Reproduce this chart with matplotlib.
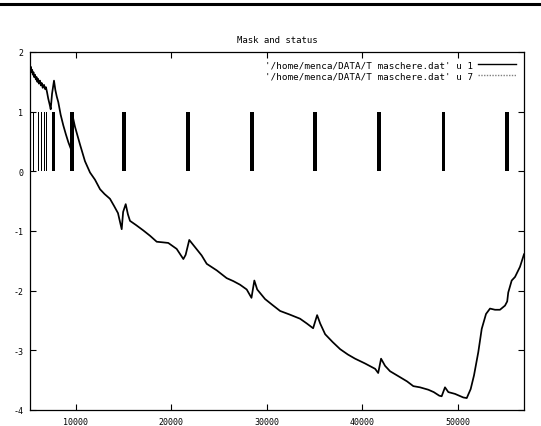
import matplotlib
matplotlib.use("Agg")
import matplotlib.pyplot as plt
from matplotlib.lines import Line2D

# Series "u 1"
x1 = [5190, 5240, 5295, 5350, 5420, 5480, 5560, 5620, 5714, 5800, 5880, 5960, 6040,
      6120, 6238, 6330, 6420, 6520, 6657, 6760, 6860, 6971, 7100, 7250, 7359,
      7500, 7705, 7850, 8000, 8155, 8400, 8680, 8950, 9204, 9486, 9600, 9696,
      9900, 10430, 10950, 11480, 12000, 12530, 13000, 13570, 14000, 14410, 14800,
      14950, 15220, 15450, 15670, 16300, 17060, 17770, 18470, 19100, 19680, 20560,
      21260, 21500, 21880, 22480, 23180, 23710, 24760, 25800, 26500, 27200, 27900,
      28400, 28700, 29000, 29820, 30600, 31400, 32400, 33490, 34200, 34860, 35280,
      35600, 36120, 36900, 37690, 38500, 39260, 40300, 41360, 41680, 41980, 42400,
      42920, 43970, 44700, 45360, 46060, 46930, 47500, 48080, 48330, 48680, 49030,
      49730, 50600, 50960, 51370, 51720, 52170, 52530, 52980, 53400, 53920, 54440,
      54970, 55200, 55310, 55670, 56020, 56540, 56960]
y1 = [1.72, 1.68, 1.75, 1.66, 1.70, 1.62, 1.66, 1.58, 1.62, 1.54, 1.58, 1.50, 1.55,
      1.47, 1.52, 1.44, 1.48, 1.40, 1.45, 1.38, 1.41, 1.33, 1.22, 1.12, 1.04,
      1.30, 1.52, 1.36, 1.25, 1.16, 0.95, 0.77, 0.62, 0.49, 0.37, 0.60, 0.90,
      0.75, 0.45, 0.17, -0.02, -0.14, -0.30, -0.38, -0.46, -0.58, -0.70, -0.97,
      -0.68, -0.55, -0.72, -0.83, -0.90, -0.99, -1.08, -1.18, -1.19, -1.20, -1.30,
      -1.47, -1.40, -1.15, -1.27, -1.41, -1.55, -1.66, -1.79, -1.84, -1.90, -1.98,
      -2.12, -1.83, -1.98, -2.14, -2.24, -2.34, -2.40, -2.47, -2.55, -2.63, -2.41,
      -2.55, -2.73, -2.86, -2.98, -3.07, -3.14, -3.22, -3.31, -3.38, -3.14, -3.26,
      -3.35, -3.45, -3.52, -3.60, -3.62, -3.66, -3.70, -3.76, -3.77, -3.62, -3.70,
      -3.73, -3.79, -3.80, -3.65, -3.42, -3.03, -2.64, -2.39, -2.30, -2.32, -2.32,
      -2.25, -2.18, -2.03, -1.83, -1.77, -1.60, -1.39]

# Series "u 7" (status = 1 intervals)
status_start = [5230, 5500, 5790, 6070, 6340, 6650, 6900, 7460, 9410,
                14800, 21540, 28240, 34880, 41550, 48320, 55020]
status_end = [5300, 5580, 5860, 6140, 6410, 6730, 6970, 7810, 9830,
              15200, 21920, 28620, 35260, 41930, 48700, 55400]

xticks = [10000, 20000, 30000, 40000, 50000]
yticks = [2, 1, 0, -1, -2, -3, -4]

title = "Mask and status"
label1 = "'/home/menca/DATA/T maschere.dat' u 1"
label7 = "'/home/menca/DATA/T maschere.dat' u 7"

W, H = 541, 427
fig = plt.figure(figsize=(W / 100, H / 100), dpi=100)
mono = "DejaVu Sans Mono"

ax = fig.add_axes([30 / W, (H - 411) / H, (524 - 30) / W, (411 - 53) / H])

ax.bar(status_start, [1] * len(status_start),
       width=[e - s for s, e in zip(status_start, status_end)],
       align="edge", color="black", linewidth=0)
ax.plot(x1, y1, color="black", lw=1.25)

ax.set_xlim(5190, 56960)
ax.set_ylim(-4, 2)
ax.set_xticks(xticks)
ax.set_yticks(yticks)
ax.set_xticklabels([str(v) for v in xticks], fontfamily=mono, fontsize=6)
ax.set_yticklabels([str(v) for v in yticks], fontfamily=mono, fontsize=6)
ax.tick_params(direction="in", length=4, width=0.8, top=True, right=True, pad=5,
               colors="black")
for s in ax.spines.values():
    s.set_linewidth(0.9)

ax.set_title(title, fontfamily=mono, fontsize=6.5, pad=7)

h1 = Line2D([], [], color="black", lw=1)
h7 = Line2D([], [], color="gray", lw=1, ls=(0, (1, 1)))
leg = ax.legend([h1, h7], [label1, label7], loc="upper right", frameon=False,
                markerfirst=False, prop={"family": mono, "size": 6.7},
                handlelength=4.0, handletextpad=0.6, labelspacing=0.25,
                borderaxespad=0.5)

fig.add_artist(Line2D([0, 1], [1 - 5 / H, 1 - 5 / H], color="black", lw=2.2,
                      transform=fig.transFigure))

fig.savefig("out.png", dpi=100)
